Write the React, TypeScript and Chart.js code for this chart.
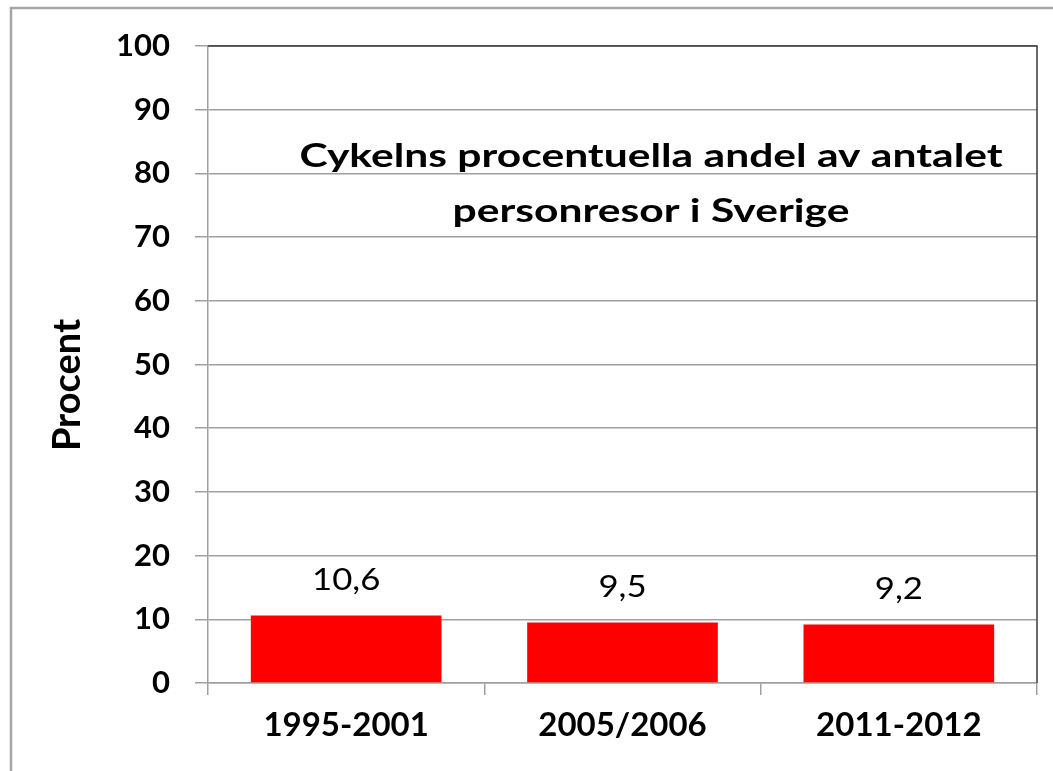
import React, { useEffect, useRef } from "react";
import { Chart, registerables } from "chart.js";

Chart.register(...registerables);

const categories = ["1995-2001", "2005/2006", "2011-2012"];
const values = [10.6, 9.5, 9.2];
const valueLabels = ["10,6", "9,5", "9,2"];
const titleLines = ["Cykelns procentuella andel av antalet", "personresor i Sverige"];
const yAxisTitle = "Procent";

const FONT = "Lato, 'Open Sans', sans-serif";

function stretchedText(ctx: any, text: string, x: number, y: number, sx: number) {
  ctx.save();
  ctx.translate(x, y);
  ctx.scale(sx, 1);
  ctx.fillText(text, 0, 0);
  ctx.restore();
}

const overlay = {
  id: "overlay",
  beforeDraw(chart: any) {
    const ctx = chart.ctx;
    ctx.save();
    ctx.fillStyle = "#ffffff";
    ctx.fillRect(0, 0, chart.width, chart.height);
    ctx.strokeStyle = "#a6a6a6";
    ctx.lineWidth = 2.5;
    ctx.beginPath();
    ctx.moveTo(11, chart.height + 5);
    ctx.lineTo(11, 8);
    ctx.lineTo(chart.width + 5, 8);
    ctx.stroke();
    ctx.restore();
  },
  afterDraw(chart: any) {
    const ctx = chart.ctx;
    const area = chart.chartArea;
    ctx.save();
    // top & right plot border
    ctx.strokeStyle = "#3a3a3a";
    ctx.lineWidth = 1.5;
    ctx.beginPath();
    ctx.moveTo(area.left, area.top);
    ctx.lineTo(area.right, area.top);
    ctx.lineTo(area.right, area.bottom);
    ctx.stroke();

    // value labels
    const meta = chart.getDatasetMeta(0);
    ctx.fillStyle = "#000";
    ctx.font = `400 31px ${FONT}`;
    ctx.textAlign = "center";
    ctx.textBaseline = "alphabetic";
    meta.data.forEach((bar: any, i: number) => {
      stretchedText(ctx, valueLabels[i], bar.x, bar.y - 25, 1.12);
    });

    // title inside plot
    ctx.font = `700 33px ${FONT}`;
    stretchedText(ctx, titleLines[0], 651, 167, 1.29);
    stretchedText(ctx, titleLines[1], 651, 222, 1.29);

    // y axis title
    ctx.save();
    ctx.translate(80, 385);
    ctx.rotate(-Math.PI / 2);
    ctx.font = `700 38px ${FONT}`;
    ctx.textAlign = "center";
    ctx.fillText(yAxisTitle, 0, 0);
    ctx.restore();
    ctx.restore();
  },
};

export default function App() {
  const ref = useRef<HTMLCanvasElement | null>(null);
  useEffect(() => {
    document.body.style.margin = "0";
    const chart = new Chart(ref.current!, {
      type: "bar",
      data: {
        labels: categories,
        datasets: [
          {
            data: values,
            backgroundColor: "#ff0000",
            borderWidth: 0,
            categoryPercentage: 1,
            barPercentage: 0.69,
          },
        ],
      },
      plugins: [overlay],
      options: {
        animation: false,
        responsive: false,
        layout: { padding: { top: 46, right: 16, left: 0, bottom: 0 } },
        plugins: {
          legend: { display: false },
          title: { display: false },
          tooltip: { enabled: false },
        },
        scales: {
          x: {
            grid: {
              drawOnChartArea: false,
              drawTicks: true,
              tickLength: 12,
              color: "#a0a0a0",
              lineWidth: 1.5,
              offset: true,
            },
            border: { color: "#a0a0a0", width: 1.5 },
            ticks: {
              color: "#000",
              font: { family: FONT, size: 33, weight: "bold" },
              padding: 11,
            },
            afterFit: (s: any) => {
              s.height = 88;
            },
          },
          y: {
            min: 0,
            max: 100,
            ticks: {
              stepSize: 10,
              color: "#000",
              font: { family: FONT, size: 31, weight: "bold" },
              padding: 25,
            },
            grid: { color: "#a0a0a0", lineWidth: 1.5, tickLength: 13 },
            border: { color: "#a0a0a0", width: 1.5 },
            afterFit: (s: any) => {
              s.width = 208;
            },
          },
        },
      },
    });
    return () => chart.destroy();
  }, []);
  return <canvas ref={ref} width={1053} height={771} style={{ display: "block" }} />;
}
